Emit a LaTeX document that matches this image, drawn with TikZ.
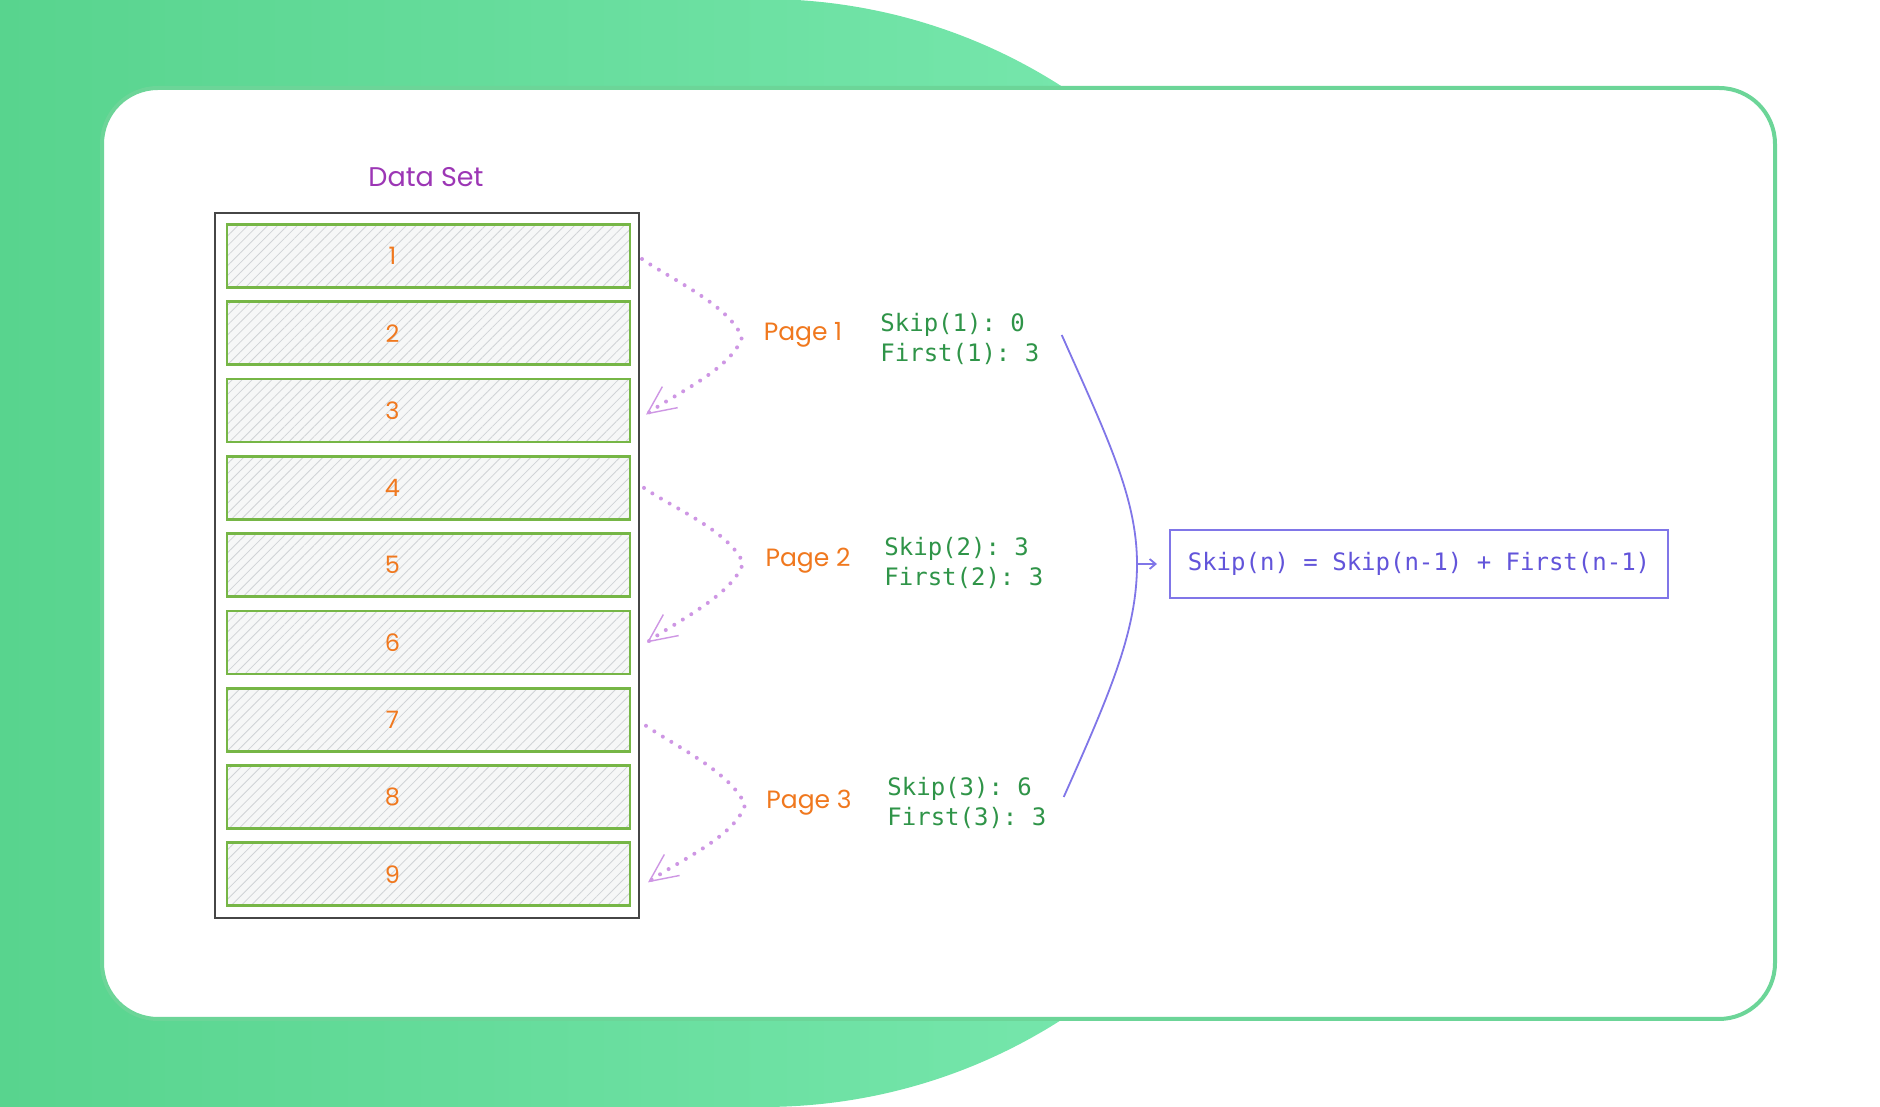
\documentclass[tikz,border=0pt]{standalone}
\usepackage{fontspec}
\setmonofont{DejaVu Sans Mono}
\newfontfamily\handfont{Poppins}
\usetikzlibrary{arrows.meta,positioning,calc,patterns.meta}

\definecolor{bgleft}{RGB}{88,212,142}
\definecolor{bgright}{RGB}{124,234,178}
\definecolor{cardline}{RGB}{108,213,152}
\definecolor{boxgray}{RGB}{70,70,70}
\definecolor{rowgreen}{RGB}{118,182,70}
\definecolor{rowfill}{RGB}{246,247,247}
\definecolor{hatch}{RGB}{208,211,214}
\definecolor{numorange}{RGB}{240,120,30}
\definecolor{dspurple}{RGB}{156,54,181}
\definecolor{dotpurple}{RGB}{206,150,228}
\definecolor{skipgreen}{RGB}{47,148,72}
\definecolor{vline}{RGB}{128,118,232}
\definecolor{vtext}{RGB}{98,84,218}

\begin{document}
\begin{tikzpicture}[
  x=0.5pt, y=0.5pt,
  node distance=7.15pt,
  rowbox/.style={
    draw=rowgreen, line width=1.4pt, outer sep=0pt, inner sep=0pt,
    minimum width=201.5pt, minimum height=31.5pt,
    preaction={fill=rowfill},
    pattern={Lines[angle=45,distance=3.5pt,line width=0.4pt]}, pattern color=hatch
  },
  numtxt/.style={font=\handfont\fontsize{12}{14}\selectfont, text=numorange, inner sep=0pt},
  pagetxt/.style={font=\handfont\fontsize{12.5}{15}\selectfont, text=numorange},
  skiptxt/.style={
    font=\ttfamily\fontsize{12}{15}\selectfont, text=skipgreen,
    align=left, anchor=west, inner sep=0pt
  },
  pagearr/.style={
    draw=dotpurple, line width=2pt, line cap=round, dash pattern=on 0pt off 5pt,
    -{Straight Barb[length=14pt,width=13pt,line width=0.7pt]}
  },
  vlink/.style={draw=vline, line width=0.9pt},
  formbox/.style={
    draw=vline, line width=1pt, text=vtext,
    minimum width=249pt, minimum height=34pt,
    font=\ttfamily\fontsize{12}{15}\selectfont
  }
]
  \useasboundingbox (0,0) rectangle (1880,1107);

  % backdrop and card
  \shade[left color=bgleft, right color=bgright]
    (0,0) -- (763,0) arc[start angle=-90, end angle=90, radius=554] -- (0,1108) -- cycle;
  \draw[draw=cardline, line width=2pt, fill=white, rounded corners=28pt]
    (102,88) rectangle (1775,1019);

  % data set
  \node[font=\handfont\fontsize{13.5}{15}\selectfont, text=dspurple] (ds) at (426,930) {Data Set};
  \draw[draw=boxgray, line width=1.2pt] (215,189) rectangle (639,894);

  \node[rowbox] (r1) at (428.5,851) {};
  \node[rowbox] (r2) [below=of r1] {};
  \node[rowbox] (r3) [below=of r2] {};
  \node[rowbox] (r4) [below=of r3] {};
  \node[rowbox] (r5) [below=of r4] {};
  \node[rowbox] (r6) [below=of r5] {};
  \node[rowbox] (r7) [below=of r6] {};
  \node[rowbox] (r8) [below=of r7] {};
  \node[rowbox] (r9) [below=of r8] {};
  \foreach \i in {1,...,9}
    \node[numtxt] (n\i) at ($(r\i.center)+(-36,0)$) {\i};

  % pages
  \node[pagetxt] (pg1) at (803,772) {Page 1};
  \node[pagetxt] (pg2) at (808,546) {Page 2};
  \node[pagetxt] (pg3) at (809,304) {Page 3};

  \draw[pagearr] ($(r1.east)+(12,-3)$) to[out=-35,in=112,looseness=0.7] ($(r2.east)+(112,-4)$)
    to[out=-108,in=36,looseness=0.7] ($(r3.east)+(16,-4)$);
  \draw[pagearr] ($(r4.east)+(14,0)$) to[out=-35,in=112,looseness=0.7] ($(r5.east)+(113,2)$)
    to[out=-108,in=36,looseness=0.7] ($(r6.east)+(17,0)$);
  \draw[pagearr] ($(r7.east)+(16,-6)$) to[out=-35,in=112,looseness=0.7] ($(r8.east)+(115,-8)$)
    to[out=-108,in=36,looseness=0.7] ($(r9.east)+(18,-8)$);

  % skip / first values
  \node[skiptxt] (sk1) at (880,768) {Skip(1): 0\\First(1): 3};
  \node[skiptxt] (sk2) at (884,544) {Skip(2): 3\\First(2): 3};
  \node[skiptxt] (sk3) at (887,304) {Skip(3): 6\\First(3): 3};

  % formula
  \node[formbox] (fm) at (1419,543) {Skip(n) = Skip(n-1) + First(n-1)};
  \coordinate (vtx) at ($(fm.west)+(-32,0)$);

  \draw[vlink] ($(sk1.east)+(22,4)$) to[out=-66,in=90,out looseness=1.2,in looseness=0.7] (vtx)
    to[out=-90,in=66,out looseness=0.7,in looseness=1.2] ($(sk3.east)+(17,6)$);
  \draw[vlink, -{Straight Barb[length=3pt,width=5pt]}] (vtx) -- ($(fm.west)+(-12,0)$);
\end{tikzpicture}
\end{document}
